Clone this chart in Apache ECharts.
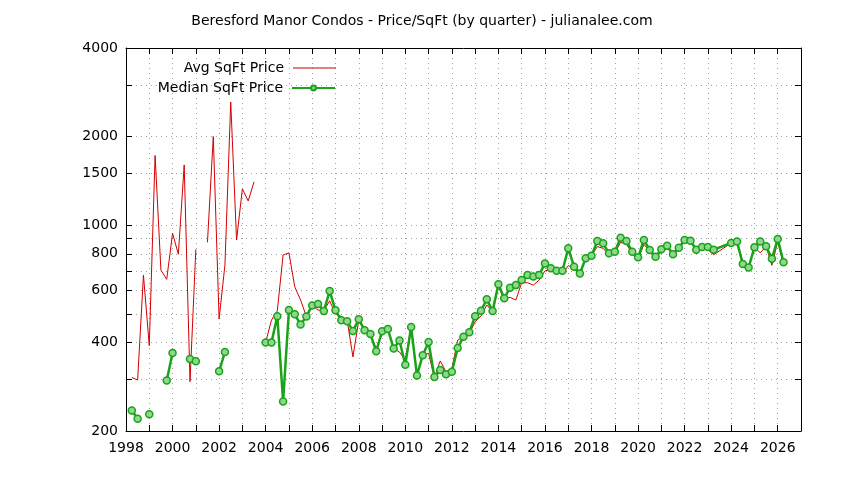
<!DOCTYPE html>
<html>
<head>
    <meta charset="utf-8">
    <title>Beresford Manor Condos</title>
    <script src="https://cdn.jsdelivr.net/npm/echarts@6/dist/echarts.min.js"></script>
    <style>
        html, body { margin: 0; padding: 0; background: #fff; }
    </style>
</head>
<body>
    <div id="main" style="width: 844px; height: 480px;"></div>
    <script type="text/javascript">

        // quarter (decimal year) and price per sqft; null = no sales that quarter
        var quarters = [
            1998.25, 1998.5, 1998.75, 1999.0, 1999.25, 1999.5, 1999.75, 2000.0,
            2000.25, 2000.5, 2000.75, 2001.0, 2001.25, 2001.5, 2001.75, 2002.0,
            2002.25, 2002.5, 2002.75, 2003.0, 2003.25, 2003.5, 2003.75, 2004.0,
            2004.25, 2004.5, 2004.75, 2005.0, 2005.25, 2005.5, 2005.75, 2006.0,
            2006.25, 2006.5, 2006.75, 2007.0, 2007.25, 2007.5, 2007.75, 2008.0,
            2008.25, 2008.5, 2008.75, 2009.0, 2009.25, 2009.5, 2009.75, 2010.0,
            2010.25, 2010.5, 2010.75, 2011.0, 2011.25, 2011.5, 2011.75, 2012.0,
            2012.25, 2012.5, 2012.75, 2013.0, 2013.25, 2013.5, 2013.75, 2014.0,
            2014.25, 2014.5, 2014.75, 2015.0, 2015.25, 2015.5, 2015.75, 2016.0,
            2016.25, 2016.5, 2016.75, 2017.0, 2017.25, 2017.5, 2017.75, 2018.0,
            2018.25, 2018.5, 2018.75, 2019.0, 2019.25, 2019.5, 2019.75, 2020.0,
            2020.25, 2020.5, 2020.75, 2021.0, 2021.25, 2021.5, 2021.75, 2022.0,
            2022.25, 2022.5, 2022.75, 2023.0, 2023.25, 2024.0, 2024.25, 2024.5,
            2024.75, 2025.0, 2025.25, 2025.5, 2025.75, 2026.0, 2026.25
        ];
        var avgPrice = [
            304, 298, 677, 390, 1725, 704, 655, 939,
            797, 1603, 294, 828, null, 875, 2001, 480,
            732, 2620, 891, 1329, 1209, 1404, null, 400,
            476, 512, 792, 806, 618, 557, 490, 534,
            515, 512, 554, 499, 490, 476, 357, 476,
            440, 427, 381, 429, 444, 381, 371, 348,
            452, 309, 362, 367, 304, 346, 318, 326,
            407, 418, 428, 470, 491, 536, 508, 618,
            560, 569, 557, 638, 638, 626, 651, 700,
            708, 714, 681, 729, 714, 677, 770, 788,
            846, 835, 792, 805, 875, 861, 803, 762,
            861, 817, 782, 809, 835, 797, 830, 880,
            880, 820, 830, 826, 794, 870, 862, 753,
            719, 841, 806, 848, 731, 880, 738
        ];
        var medianPrice = [
            235, 220, null, 228, null, null, 297, 368,
            null, null, 351, 345, null, null, null, 319,
            371, null, null, null, null, null, null, 400,
            400, 491, 252, 515, 498, 460, 490, 534,
            540, 511, 598, 514, 476, 472, 437, 479,
            440, 427, 373, 436, 444, 381, 406, 336,
            451, 309, 362, 401, 305, 322, 312, 318,
            383, 418, 433, 491, 512, 560, 511, 630,
            565, 613, 626, 651, 677, 670, 677, 742,
            714, 700, 700, 835, 723, 686, 772, 788,
            884, 868, 803, 813, 907, 884, 813, 778,
            891, 824, 782, 828, 852, 797, 839, 891,
            886, 826, 844, 844, 826, 870, 880, 738,
            719, 841, 880, 848, 770, 898, 748
        ];

        var yTicks = [200, 300, 400, 500, 600, 700, 800, 900, 1000, 1500, 2000, 3000, 4000];
        var yLabels = [200, 400, 600, 800, 1000, 1500, 2000, 4000];

        var FONT = 'DejaVu Sans';
        var FS = 14;

        function toLog(list) {
            return list.map(function (v) { return Math.log10(v); });
        }
        function pairs(values) {
            return quarters.map(function (q, i) {
                return [q, values[i] == null ? '-' : Math.log10(values[i])];
            });
        }

        var myChart = echarts.init(document.getElementById('main'), null, {renderer: 'canvas'});

        var gridLine = {
            show: true,
            lineStyle: {color: '#a0a0a0', width: 1, type: [1, 4]}
        };

        var option = {
            animation: false,
            backgroundColor: '#ffffff',
            title: {
                text: 'Beresford Manor Condos - Price/SqFt (by quarter) - julianalee.com',
                left: 'center',
                top: 9,
                textStyle: {fontFamily: FONT, fontSize: FS, fontWeight: 'normal', color: '#000'}
            },
            legend: [
                {
                    data: [{name: 'Avg SqFt Price', icon: 'rect'}],
                    right: 503,
                    top: 56,
                    align: 'right',
                    itemWidth: 43,
                    itemHeight: 1,
                    textStyle: {fontFamily: FONT, fontSize: FS, color: '#000', padding: [0, 4, 0, 0]}
                },
                {
                    data: ['Median SqFt Price'],
                    right: 503,
                    top: 76,
                    align: 'right',
                    itemWidth: 43,
                    itemHeight: 6,
                    textStyle: {fontFamily: FONT, fontSize: FS, color: '#000', padding: [0, 4, 0, 0]}
                }
            ],
            grid: {
                left: 126,
                right: 43,
                top: 48,
                bottom: 49
            },
            xAxis: [
                {
                    type: 'value',
                    min: 1998,
                    max: 2027,
                    interval: 1,
                    axisLine: {show: true, lineStyle: {color: '#000', width: 1}},
                    axisTick: {show: true, inside: true, length: 6, lineStyle: {color: '#000'}},
                    axisLabel: {
                        fontFamily: FONT, fontSize: FS, color: '#000', margin: 10,
                        formatter: function (v) { return v % 2 === 0 ? String(v) : ''; }
                    },
                    splitLine: gridLine
                },
                {
                    type: 'value',
                    position: 'top',
                    min: 1998,
                    max: 2027,
                    interval: 1,
                    axisLine: {show: true, lineStyle: {color: '#000', width: 1}},
                    axisTick: {show: true, inside: true, length: 6, lineStyle: {color: '#000'}},
                    axisLabel: {show: false},
                    splitLine: {show: false}
                }
            ],
            yAxis: [
                {
                    type: 'value',
                    min: Math.log10(200),
                    max: Math.log10(4000),
                    axisLine: {show: true, lineStyle: {color: '#000', width: 1}},
                    axisTick: {show: true, inside: true, length: 6, lineStyle: {color: '#000'},
                        customValues: toLog(yTicks)},
                    axisLabel: {
                        fontFamily: FONT, fontSize: FS, color: '#000', margin: 8,
                        customValues: toLog(yLabels),
                        formatter: function (v) { return String(Math.round(Math.pow(10, v))); }
                    },
                    splitLine: gridLine
                },
                {
                    type: 'value',
                    position: 'right',
                    min: Math.log10(200),
                    max: Math.log10(4000),
                    axisLine: {show: true, lineStyle: {color: '#000', width: 1}},
                    axisTick: {show: true, inside: true, length: 6, lineStyle: {color: '#000'},
                        customValues: toLog(yTicks)},
                    axisLabel: {show: false},
                    splitLine: {show: false}
                }
            ],
            series: [
                {
                    name: 'Avg SqFt Price',
                    type: 'line',
                    symbol: 'none',
                    connectNulls: false,
                    lineStyle: {color: '#d40000', width: 1},
                    itemStyle: {color: '#c80000'},
                    data: pairs(avgPrice),
                    z: 2
                },
                {
                    name: 'Median SqFt Price',
                    type: 'line',
                    symbol: 'circle',
                    symbolSize: 7,
                    showSymbol: true,
                    connectNulls: false,
                    lineStyle: {color: '#18a318', width: 2.5},
                    itemStyle: {color: '#8fd68f', borderColor: '#18a318', borderWidth: 1.5},
                    data: pairs(medianPrice),
                    z: 3
                }
            ]
        };

        myChart.setOption(option);

    </script>
</body>
</html>
